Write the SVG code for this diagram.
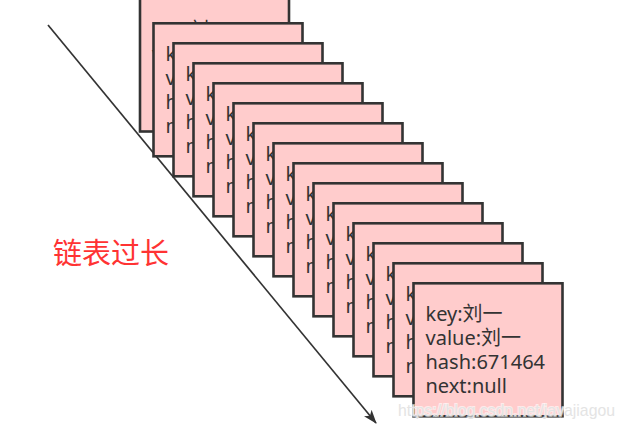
<svg xmlns="http://www.w3.org/2000/svg" width="624" height="436" viewBox="0 0 624 436">
<style>
.bx{fill:#ffcccc;stroke:#333333;stroke-width:2.6}
.tx{font-family:"Noto Sans","Noto Sans CJK SC",sans-serif;font-size:20px;fill:#333333}
.lbl{font-family:"Noto Sans CJK SC","Noto Sans",sans-serif;font-size:29px;fill:#ff3333}
.wm{font-family:"Liberation Sans","Noto Sans",sans-serif;font-size:17px;fill:#e4e4e4;stroke:#ffffff;stroke-width:2;paint-order:stroke;stroke-opacity:0.6}
</style>
<defs>
<marker id="arr" viewBox="0 0 14 10" refX="13" refY="5" markerWidth="14" markerHeight="10" markerUnits="userSpaceOnUse" orient="auto">
<path d="M0,0 L14,5 L0,10 L3.5,5 Z" fill="#333333"/>
</marker>
<g id="entry">
<rect class="bx" x="0" y="0" width="149" height="133"/>
<text class="tx" x="12" y="38">key:刘一</text>
<text class="tx" x="12" y="62">value:刘一</text>
<text class="tx" x="12" y="86">hash:671464</text>
<text class="tx" x="12" y="110">next:null</text>
</g>
</defs>
<g id="connectors">
<line x1="48" y1="25" x2="376" y2="423" stroke="#333333" stroke-width="1.7" marker-end="url(#arr)"/>
</g>
<g id="label"><text class="lbl" x="53" y="264">链表过长</text></g>
<g id="node1"><use href="#entry" x="140" y="-1.5"/></g>
<g id="node2"><use href="#entry" x="153.5" y="23.3"/></g>
<g id="node3"><use href="#entry" x="173.5" y="43.3"/></g>
<g id="node4"><use href="#entry" x="193.5" y="63.3"/></g>
<g id="node5"><use href="#entry" x="213.5" y="83.3"/></g>
<g id="node6"><use href="#entry" x="233.5" y="103.3"/></g>
<g id="node7"><use href="#entry" x="253.5" y="123.3"/></g>
<g id="node8"><use href="#entry" x="273.5" y="143.3"/></g>
<g id="node9"><use href="#entry" x="293.5" y="163.3"/></g>
<g id="node10"><use href="#entry" x="313.5" y="183.3"/></g>
<g id="node11"><use href="#entry" x="333.5" y="203.3"/></g>
<g id="node12"><use href="#entry" x="353.5" y="223.3"/></g>
<g id="node13"><use href="#entry" x="373.5" y="243.3"/></g>
<g id="node14"><use href="#entry" x="393.5" y="263.3"/></g>
<g id="node15"><use href="#entry" x="413.5" y="283.3"/></g>
<text class="wm" x="398" y="416" textLength="217" lengthAdjust="spacingAndGlyphs">https://blog.csdn.net/javajiagou</text>
</svg>
